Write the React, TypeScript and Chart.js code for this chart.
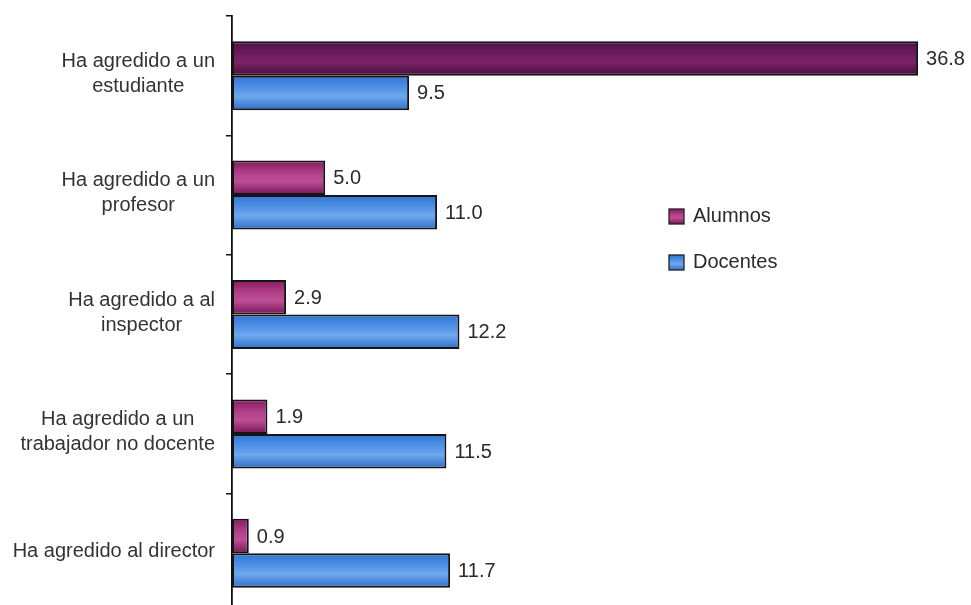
import React, { useEffect, useRef } from "react";
import { Chart, registerables } from "chart.js";

Chart.register(...registerables);

const categories: string[][] = [
  ["Ha agredido a un", "estudiante"],
  ["Ha agredido a un", "profesor"],
  ["Ha agredido a al", "inspector"],
  ["Ha agredido a un", "trabajador no docente"],
  ["Ha agredido al director"],
];
const seriesNames = ["Alumnos", "Docentes"];
const alumnos = [36.8, 5.0, 2.9, 1.9, 0.9];
const docentes = [9.5, 11.0, 12.2, 11.5, 11.7];

const FONT = '20px "Liberation Sans", Arial, sans-serif';
const CAT_PCT = 0.578;

const stopsFor = (ds: number, idx: number): string[] => {
  if (ds === 0) {
    if (idx === 0) return ["#4e1044", "#6c1a5e", "#7a2468", "#470c3c"];
    return ["#84195e", "#b03e88", "#bd4f95", "#761556"];
  }
  return ["#2f74d2", "#4f92e6", "#6fa8ee", "#2d6ec8"];
};

function grad(ctx: CanvasRenderingContext2D, top: number, bottom: number, stops: string[]) {
  const g = ctx.createLinearGradient(0, top, 0, bottom);
  g.addColorStop(0, stops[0]);
  g.addColorStop(0.35, stops[1]);
  g.addColorStop(0.6, stops[2]);
  g.addColorStop(1, stops[3]);
  return g;
}

const bgFor = (dsIndex: number) => (c: any) => {
  const chart = c.chart;
  const y = chart.scales?.y;
  const fallback = dsIndex === 0 ? "#9a3278" : "#4a90e2";
  if (!y || c.dataIndex === undefined) return fallback;
  const center = y.getPixelForValue(c.dataIndex);
  const catH = Math.abs(y.getPixelForValue(1) - y.getPixelForValue(0));
  const bh = (catH * CAT_PCT) / 2;
  const top = dsIndex === 0 ? center - bh : center;
  if (!isFinite(top)) return fallback;
  return grad(chart.ctx, top, top + bh, stopsFor(dsIndex, c.dataIndex));
};

const customDraw = {
  id: "customDraw",
  afterDraw(chart: any) {
    const ctx: CanvasRenderingContext2D = chart.ctx;
    const y = chart.scales.y;
    const x = chart.scales.x;
    ctx.save();
    ctx.font = FONT;
    ctx.fillStyle = "#333";
    ctx.textBaseline = "middle";
    ctx.textAlign = "center";
    const right = 215;
    const lh = 25;
    categories.forEach((lines, i) => {
      const cy = y.getPixelForValue(i) - 2;
      const w = Math.max(...lines.map((l) => ctx.measureText(l).width));
      const cx = right - w / 2;
      const start = cy - ((lines.length - 1) * lh) / 2;
      lines.forEach((l, j) => ctx.fillText(l, cx, start + j * lh));
    });
    ctx.textAlign = "left";
    ctx.fillStyle = "#2a2a2a";
    [0, 1].forEach((di) => {
      const meta = chart.getDatasetMeta(di);
      const vals = di === 0 ? alumnos : docentes;
      meta.data.forEach((el: any, i: number) => {
        ctx.fillText(vals[i].toFixed(1), x.getPixelForValue(vals[i]) + 8, el.y + 1);
      });
    });
    const legendY = [216, 262];
    seriesNames.forEach((name, i) => {
      const my = legendY[i] - 7;
      ctx.fillStyle = grad(ctx, my, my + 15, stopsFor(i, 1));
      ctx.fillRect(669, my, 15, 15);
      ctx.strokeStyle = "#222";
      ctx.lineWidth = 1.3;
      ctx.strokeRect(669, my, 15, 15);
      ctx.fillStyle = "#2a2a2a";
      ctx.fillText(name, 693, legendY[i]);
    });
    ctx.restore();
  },
};

export default function App() {
  const ref = useRef<HTMLCanvasElement | null>(null);
  useEffect(() => {
    document.body.style.margin = "0";
    const canvas = ref.current!;
    const chart = new Chart(canvas, {
      type: "bar",
      data: {
        labels: categories.map((c) => c.join(" ")),
        datasets: [
          {
            label: seriesNames[0],
            data: alumnos,
            backgroundColor: bgFor(0),
            borderColor: "#151515",
            borderWidth: 2,
            borderSkipped: false,
            categoryPercentage: CAT_PCT,
            barPercentage: 1,
          },
          {
            label: seriesNames[1],
            data: docentes,
            backgroundColor: bgFor(1),
            borderColor: "#151515",
            borderWidth: 2,
            borderSkipped: false,
            categoryPercentage: CAT_PCT,
            barPercentage: 1,
          },
        ],
      },
      options: {
        indexAxis: "y",
        responsive: false,
        animation: false,
        devicePixelRatio: 1,
        layout: { padding: { top: 16, left: 0, right: 0, bottom: 0 } },
        plugins: {
          legend: { display: false },
          tooltip: { enabled: false },
        },
        scales: {
          x: { display: false, min: 0, max: 39.64 },
          y: {
            position: "left",
            ticks: { display: false },
            grid: {
              offset: true,
              drawOnChartArea: false,
              drawTicks: true,
              tickLength: 6,
              color: "#111",
              lineWidth: 1.5,
            },
            border: { display: true, color: "#111", width: 1.8 },
            afterFit: (s: any) => {
              s.width = 232;
            },
          },
        },
      },
      plugins: [customDraw],
    });
    return () => chart.destroy();
  }, []);
  return (
    <div style={{ width: 971, height: 605, overflow: "hidden", background: "#fff" }}>
      <canvas ref={ref} width={971} height={613} style={{ display: "block" }} />
    </div>
  );
}
